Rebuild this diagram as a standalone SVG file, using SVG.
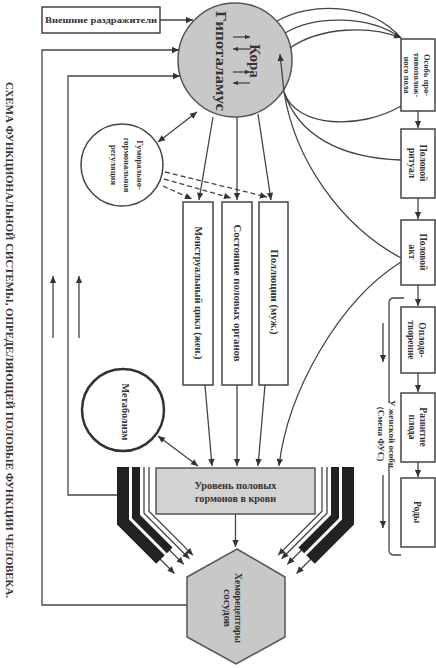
<svg xmlns="http://www.w3.org/2000/svg" width="436" height="668" viewBox="0 0 436 668">
<defs>
<marker id="ah" viewBox="0 0 10 10" refX="10" refY="5" markerWidth="8" markerHeight="7" markerUnits="userSpaceOnUse" orient="auto-start-reverse"><path d="M0,0.5 L10,5 L0,9.5 z" fill="#333"/></marker>
<marker id="ahs" viewBox="0 0 10 10" refX="10" refY="5" markerWidth="6" markerHeight="5" markerUnits="userSpaceOnUse" orient="auto-start-reverse"><path d="M0,0.5 L10,5 L0,9.5 z" fill="#333"/></marker>
<style>
.ln{fill:none;stroke:#444;stroke-width:1.3}
.arr{marker-end:url(#ah)}
.sarr{marker-end:url(#ahs)}
.dbl{marker-start:url(#ah);marker-end:url(#ah)}
.dash{stroke-dasharray:5 3}
.box{fill:#fff;stroke:#444;stroke-width:1.5}
.gray{fill:#c8c8c8;stroke:#555;stroke-width:1.5}
.t{font-family:"Liberation Serif","DejaVu Serif",serif;fill:#333;font-weight:bold;text-anchor:middle;dominant-baseline:central}
.band{fill:none;stroke:#222;stroke-linejoin:miter}
</style>
</defs>
<rect width="436" height="668" fill="#fff"/>

<text id="title" class="t" transform="translate(9,340) rotate(90)" font-size="10" textLength="516" lengthAdjust="spacingAndGlyphs">СХЕМА ФУНКЦИОНАЛЬНОЙ СИСТЕМЫ, ОПРЕДЕЛЯЮЩЕЙ ПОЛОВЫЕ ФУНКЦИИ ЧЕЛОВЕКА.</text>

<g id="external">
<rect class="box" x="42" y="7" width="118" height="26"/>
<text class="t" x="101" y="20" font-size="9" textLength="112" lengthAdjust="spacingAndGlyphs">Внешние раздражители</text>
</g>

<g id="cortex">
<circle class="gray" cx="235" cy="60" r="57"/>
<text class="t" transform="translate(255,61) rotate(90)" font-size="15">Кора</text>
<text class="t" transform="translate(221,61) rotate(90)" font-size="15" textLength="100" lengthAdjust="spacingAndGlyphs">Гипоталамус</text>
<path class="ln sarr" d="M233,37 L250,37"/>
<path class="ln sarr" d="M250,49 L233,49"/>
<path class="ln sarr" d="M233,72 L250,72"/>
<path class="ln sarr" d="M250,83 L233,83"/>
</g>

<g id="humoral">
<circle cx="122" cy="165" r="41" fill="#fff" stroke="#444" stroke-width="1.5"/>
<text class="t" transform="translate(140,165) rotate(90)" font-size="8.5">Гуморально-</text>
<text class="t" transform="translate(127,165) rotate(90)" font-size="8.5">гормональная</text>
<text class="t" transform="translate(114,165) rotate(90)" font-size="8.5">регуляция</text>
</g>

<g id="menstrual">
<rect class="box" x="183" y="202" width="30" height="183"/>
<text class="t" transform="translate(198,293) rotate(90)" font-size="9.5" textLength="133" lengthAdjust="spacingAndGlyphs">Менструальный цикл (жен.)</text>
</g>
<g id="organs">
<rect class="box" x="222" y="202" width="30" height="183"/>
<text class="t" transform="translate(237,293) rotate(90)" font-size="9.5" textLength="137" lengthAdjust="spacingAndGlyphs">Состояние половых органов</text>
</g>
<g id="pollution">
<rect class="box" x="259" y="202" width="29" height="183"/>
<text class="t" transform="translate(273.5,292) rotate(90)" font-size="9.5" textLength="85" lengthAdjust="spacingAndGlyphs">Поллюции (муж.)</text>
</g>

<g id="metabolism">
<circle cx="123" cy="410" r="41" fill="#fff" stroke="#333" stroke-width="2.5"/>
<text class="t" transform="translate(125,412) rotate(90)" font-size="10" textLength="57" lengthAdjust="spacingAndGlyphs">Метаболизм</text>
</g>

<g id="hormones">
<rect x="156" y="468" width="159" height="46" fill="#d2d2d2" stroke="#555" stroke-width="1.5"/>
<text class="t" x="235.5" y="486" font-size="9.5" textLength="82" lengthAdjust="spacingAndGlyphs">Уровень половых</text>
<text class="t" x="235.5" y="499" font-size="9.5" textLength="81" lengthAdjust="spacingAndGlyphs">гормонов в крови</text>
</g>

<g id="chemoreceptors">
<polygon class="gray" points="237,549 285,577 285,637 236,664 187,637 187,577"/>
<text class="t" transform="translate(238,608) rotate(90)" font-size="9.5" textLength="70" lengthAdjust="spacingAndGlyphs">Хеморецепторы</text>
<text class="t" transform="translate(227,608) rotate(90)" font-size="9.5" textLength="38" lengthAdjust="spacingAndGlyphs">сосудов</text>
</g>

<g id="partner">
<rect class="box" x="401" y="39" width="34" height="72"/>
<text class="t" transform="translate(427,75) rotate(90)" font-size="8.5">Особь про-</text>
<text class="t" transform="translate(417,75) rotate(90)" font-size="8.5">тивополож-</text>
<text class="t" transform="translate(407,75) rotate(90)" font-size="8.5">ного пола</text>
</g>
<g id="ritual">
<rect class="box" x="401" y="129" width="34" height="69"/>
<text class="t" transform="translate(423,163) rotate(90)" font-size="9.5">Половой</text>
<text class="t" transform="translate(412,163) rotate(90)" font-size="9.5">ритуал</text>
</g>
<g id="act">
<rect class="box" x="401" y="220" width="34" height="65"/>
<text class="t" transform="translate(423,252) rotate(90)" font-size="9.5">Половой</text>
<text class="t" transform="translate(412,252) rotate(90)" font-size="9.5">акт</text>
</g>
<g id="fertilization">
<rect class="box" x="401" y="307" width="34" height="66"/>
<text class="t" transform="translate(422,340) rotate(90)" font-size="9.5">Оплодо-</text>
<text class="t" transform="translate(411,340) rotate(90)" font-size="9.5">творение</text>
</g>
<g id="development">
<rect class="box" x="401" y="393" width="34" height="69"/>
<text class="t" transform="translate(423,427) rotate(90)" font-size="9.5">Развитие</text>
<text class="t" transform="translate(412,427) rotate(90)" font-size="9.5">плода</text>
</g>
<g id="birth">
<rect class="box" x="401" y="478" width="34" height="69"/>
<text class="t" transform="translate(417,512) rotate(90)" font-size="9.5">Роды</text>
</g>

<g id="female-note">
<text class="t" transform="translate(392,434) rotate(90)" font-size="9">У женской особи</text>
<text class="t" transform="translate(381,434) rotate(90)" font-size="9">(Смена ФУС)</text>
</g>

<g id="connectors">
<path class="ln arr" d="M160,20 L193,20"/>
<path class="ln arr" d="M187,605 L42,605 L42,50 L179,50"/>
<path class="ln arr" d="M117,495 L68,495 L68,76 L180,76"/>
<path class="ln arr" d="M53,338 L53,276"/>
<path class="ln arr" d="M79,338 L79,276"/>
<path class="ln dbl" d="M158,142 L197,112"/>
<path class="ln dash arr" d="M163,186 L192,199"/>
<path class="ln dash arr" d="M164,179 L231,198"/>
<path class="ln dash arr" d="M165,172 L267,197"/>
<path class="ln arr" d="M213,117 L199,200"/>
<path class="ln arr" d="M237,117 L237,200"/>
<path class="ln arr" d="M258,114 L271,200"/>
<path class="ln arr" d="M205,385 L212,466"/>
<path class="ln arr" d="M237,385 L237,466"/>
<path class="ln arr" d="M265,385 L258,466"/>
<path class="ln arr" d="M401,262 C340,300 288,390 279,466"/>
<path class="ln dbl" d="M158,436 L198,466"/>
<path class="ln arr" d="M235.5,514 L235.5,547"/>
<path class="ln" d="M277,21 C310,2 370,2 401,38"/>
<path class="ln" d="M285,33 C315,15 370,15 401,38"/>
<path class="ln arr" d="M290,48 C320,27 370,25 401,38"/>
<path class="ln" d="M401,106 C360,130 296,128 284,92"/>
<path class="ln" d="M401,160 C340,158 298,135 284,92"/>
<path class="ln" d="M401,258 C340,225 295,160 284,92"/>
<path class="ln arr" d="M284,92 L280,54"/>
<path class="ln arr" d="M418,111 L418,128"/>
<path class="ln arr" d="M418,198 L418,219"/>
<path class="ln arr" d="M418,285 L418,306"/>
<path class="ln arr" d="M418,373 L418,392"/>
<path class="ln arr" d="M418,462 L418,477"/>
<path class="ln" d="M404,298 L394,298 Q389,298 389,303 L389,403"/>
<path class="ln" d="M389,463 L389,550 Q389,555 394,555 L401,555"/>
<path class="ln arr" d="M383,323 L383,362"/>
<path class="ln arr" d="M383,475 L383,528"/>
<g id="bundleL">
<path class="ln arr" d="M123,467 L123,522 L174.5,573.5"/>
<path class="ln arr" d="M136,467 L136,516.6 L183.7,564.3"/>
<path class="ln arr" d="M144,467 L144,513.3 L189.4,558.7"/>
<path class="ln arr" d="M149,467 L149,511.2 L192.9,555.1"/>
<path class="band" stroke-width="12" d="M123,467 L123,522 L160.5,559.5"/>
<path class="band" stroke-width="8" d="M136,467 L136,516.6 L169.7,550.3"/>
</g>
<use href="#bundleL" transform="matrix(-1,0,0,1,471,0)"/>
</g>
</svg>
